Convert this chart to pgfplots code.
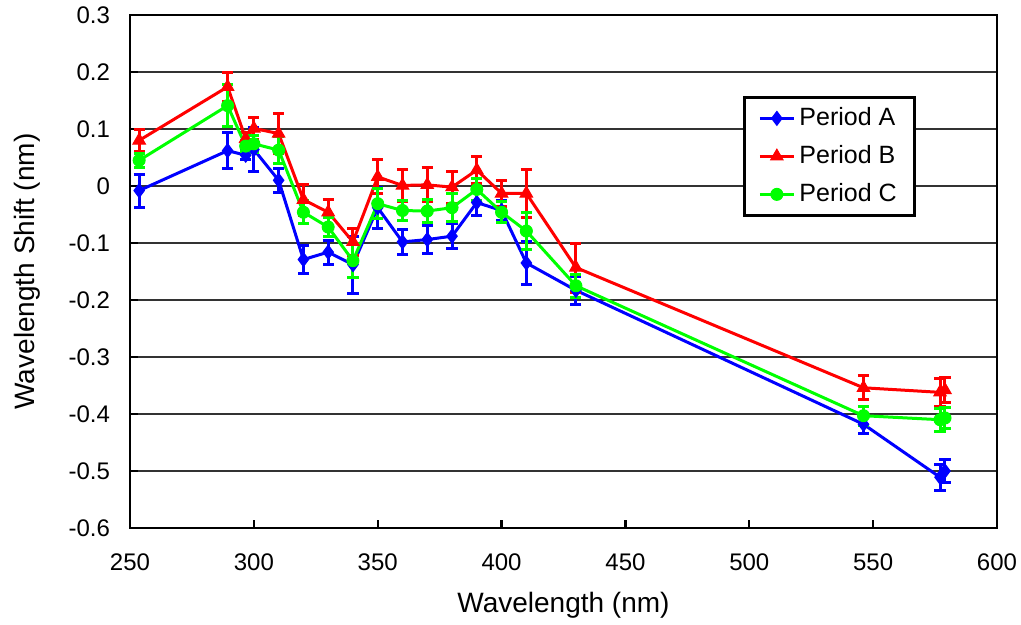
\documentclass[border=0pt]{standalone}
\usepackage{fontspec}
\setmainfont{Liberation Sans}
\usepackage{pgfplots}
\usepackage{pgfplotstable}
\pgfplotsset{compat=1.18}

\pgfplotstableread{
x y e
253.7 -0.008 0.029
289.4 0.062 0.032
296.7 0.054 0.008
300 0.064 0.039
310 0.010 0.021
320 -0.129 0.024
330 -0.116 0.021
340 -0.138 0.050
350 -0.038 0.036
360 -0.098 0.022
370 -0.094 0.025
380 -0.088 0.022
390 -0.029 0.023
400 -0.043 0.018
410 -0.135 0.038
430 -0.183 0.025
546.1 -0.418 0.017
577 -0.511 0.023
579 -0.500 0.020
}\periodA

\pgfplotstableread{
x y e
253.7 0.080 0.020
289.4 0.174 0.025
296.7 0.083 0.010
300 0.101 0.020
310 0.092 0.035
320 -0.024 0.027
330 -0.046 0.023
340 -0.098 0.024
350 0.016 0.030
360 0.001 0.028
370 0.002 0.030
380 -0.002 0.028
390 0.028 0.024
400 -0.013 0.023
410 -0.013 0.042
430 -0.143 0.043
546.1 -0.354 0.021
577 -0.362 0.025
579 -0.358 0.022
}\periodB

\pgfplotstableread{
x y e
253.7 0.045 0.012
289.4 0.141 0.037
296.7 0.070 0.010
300 0.074 0.015
310 0.063 0.023
320 -0.046 0.020
330 -0.072 0.017
340 -0.131 0.030
350 -0.031 0.026
360 -0.043 0.018
370 -0.044 0.020
380 -0.038 0.025
390 -0.006 0.020
400 -0.046 0.018
410 -0.079 0.033
430 -0.175 0.020
546.1 -0.403 0.017
577 -0.410 0.020
579 -0.407 0.018
}\periodC

\definecolor{cA}{RGB}{0,0,255}
\definecolor{cB}{RGB}{255,0,0}
\definecolor{cC}{RGB}{0,255,0}

\begin{document}
\begin{tikzpicture}
\useasboundingbox (-65pt,-48.5pt) rectangle (445.5pt,264pt);
\begin{axis}[
  at={(0,0)}, anchor=south west,
  scale only axis,
  width=433.5pt, height=256.5pt,
  xmin=250, xmax=600, ymin=-0.6, ymax=0.3,
  xtick={250,300,...,600},
  ytick={-0.6,-0.5,...,0.3},
  font=\fontsize{12}{14}\selectfont,
  /pgf/number format/assume math mode=true,
  yticklabel style={/pgf/number format/fixed, /pgf/number format/precision=1, xshift=-6.5pt},
  xticklabel style={yshift=-9.5pt},
  tick align=inside,
  xtick pos=bottom, ytick pos=left,
  major tick length=4pt,
  every tick/.style={black, line width=1.2pt},
  axis line style={line width=1.4pt},
  ymajorgrids,
  grid style={line width=0.7pt, color=black!80},
  xlabel={Wavelength (nm)},
  ylabel={Wavelength Shift (nm)},
  x label style={at={(axis description cs:0.5,-0.150)}, anchor=center, font=\fontsize{14}{16}\selectfont},
  y label style={at={(axis description cs:-0.1188,0.5)}, anchor=center, rotate=0, font=\fontsize{14}{16}\selectfont},
  legend cell align=left,
  legend style={at={(rel axis cs:0.707,0.842)}, anchor=north west,
    draw=black, line width=1.3pt, inner xsep=7pt, inner ysep=3pt,
    row sep=4pt,
    nodes={inner sep=2pt, text height=9pt, text depth=2pt},
    font=\fontsize{12.5}{14}\selectfont},
]
\addplot[color=cA, line width=1.5pt, mark=diamond*, mark size=3.5pt,
  mark options={fill=cA, line width=0.5pt},
  error bars/.cd, y dir=both, y explicit,
  error bar style={line width=1.5pt, color=cA},
  error mark options={rotate=90, mark size=2.8pt, line width=1.5pt, color=cA}]
  table[x=x, y=y, y error=e] {\periodA};
\addlegendentry{Period A}
\addplot[color=cB, line width=1.5pt, mark=triangle*, mark size=3.6pt,
  mark options={fill=cB, line width=0.5pt},
  error bars/.cd, y dir=both, y explicit,
  error bar style={line width=1.5pt, color=cB},
  error mark options={rotate=90, mark size=2.8pt, line width=1.5pt, color=cB}]
  table[x=x, y=y, y error=e] {\periodB};
\addlegendentry{Period B}
\addplot[color=cC, line width=1.5pt, mark=*, mark size=3pt,
  mark options={fill=cC, line width=0.5pt},
  error bars/.cd, y dir=both, y explicit,
  error bar style={line width=1.5pt, color=cC},
  error mark options={rotate=90, mark size=2.8pt, line width=1.5pt, color=cC}]
  table[x=x, y=y, y error=e] {\periodC};
\addlegendentry{Period C}
\end{axis}
\end{tikzpicture}
\end{document}
